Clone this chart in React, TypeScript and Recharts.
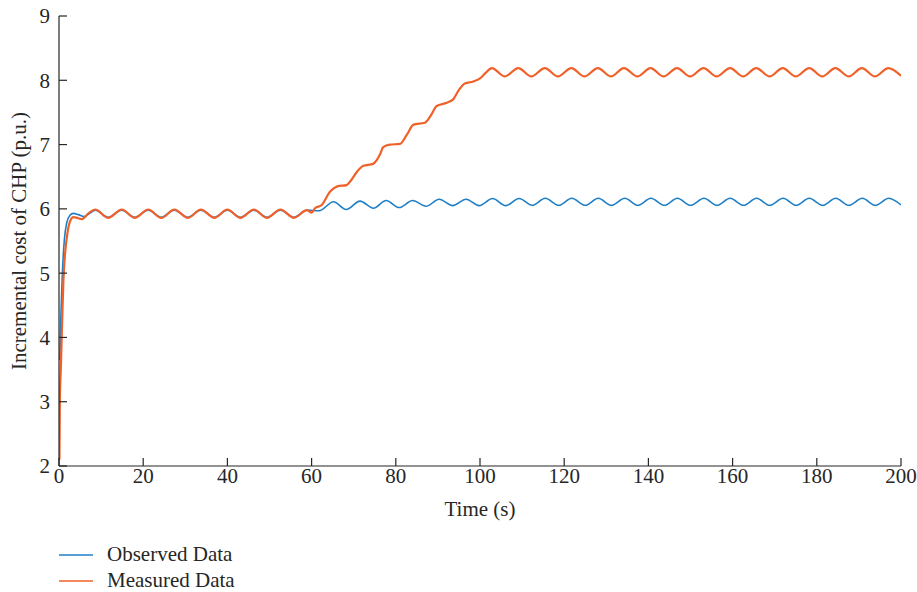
import React from 'react';
import { LineChart, Line, XAxis, YAxis } from 'recharts';

// Measured Data (orange)
const measuredTime = [
  0.1, 0.2, 0.45, 0.8, 1.05, 1.45, 2.0, 2.6, 3.4, 4.3, 5.4, 7.0,
  8.6, 11.7, 14.9, 18.0, 21.2, 24.3, 27.4, 30.6, 33.7, 36.9, 40.0, 43.1,
  46.3, 49.4, 52.6, 55.8, 58.9, 60.0, 60.8, 62.4, 64.4, 66.1, 68.3, 69.1,
  70.7, 72.3, 74.6, 76.2, 77.0, 78.6, 81.0, 82.6, 84.2, 86.9, 88.3, 89.7,
  92.1, 93.7, 95.0, 96.4, 98.4, 100.0, 101.4, 102.8, 105.9, 109.1, 112.2, 115.4,
  118.5, 121.7, 124.8, 128.0, 131.1, 134.2, 137.4, 140.5, 143.6, 146.8, 149.9, 153.1,
  156.2, 159.4, 162.5, 165.6, 168.8, 171.9, 175.0, 178.2, 181.3, 184.4, 187.6, 190.7,
  193.8, 197.0, 200.0,
];
const measuredValue = [
  2.1, 3.0, 3.55, 4.37, 4.89, 5.31, 5.62, 5.8, 5.87, 5.86, 5.84, 5.93,
  5.99, 5.86, 5.99, 5.86, 5.99, 5.86, 5.99, 5.86, 5.99, 5.86, 5.99, 5.86,
  5.99, 5.86, 5.99, 5.86, 5.98, 5.94, 6.01, 6.06, 6.27, 6.35, 6.37, 6.42,
  6.57, 6.67, 6.7, 6.84, 6.96, 7.0, 7.01, 7.15, 7.31, 7.34, 7.45, 7.6,
  7.65, 7.71, 7.85, 7.95, 7.98, 8.03, 8.12, 8.19, 8.06, 8.19, 8.06, 8.19,
  8.06, 8.19, 8.06, 8.19, 8.06, 8.19, 8.06, 8.19, 8.06, 8.19, 8.06, 8.19,
  8.06, 8.19, 8.06, 8.19, 8.06, 8.19, 8.06, 8.19, 8.06, 8.19, 8.06, 8.19,
  8.06, 8.19, 8.07,
];

// Observed Data (blue)
const observedTime = [
  0.2, 0.47, 0.8, 1.27, 1.83, 2.6, 3.4, 4.6, 6.0, 7.3,
  8.6, 11.7, 14.9, 18.0, 21.2, 24.3, 27.4, 30.6, 33.7, 36.9, 40.0, 43.1,
  46.3, 49.4, 52.6, 55.8, 58.9, 61.8, 65.2, 68.2, 71.5, 74.7, 77.7, 80.8,
  84.0, 87.2, 90.3, 93.5, 96.7, 99.8, 103.0, 106.1, 109.3, 112.4, 115.5, 118.7,
  121.8, 125.0, 128.1, 131.2, 134.4, 137.5, 140.6, 143.8, 146.9, 150.0, 153.2, 156.3,
  159.4, 162.6, 165.7, 168.8, 172.0, 175.1, 178.2, 181.4, 184.5, 187.6, 190.8, 193.9,
  197.1, 200.0,
];
const observedValue = [
  3.65, 4.38, 5.0, 5.52, 5.78, 5.9, 5.93, 5.91, 5.88, 5.93,
  5.98, 5.87, 5.98, 5.87, 5.98, 5.87, 5.98, 5.87, 5.98, 5.87, 5.98, 5.87,
  5.98, 5.87, 5.98, 5.87, 5.98, 5.97, 6.11, 5.99, 6.12, 6.01, 6.13, 6.02,
  6.13, 6.04, 6.15, 6.05, 6.15, 6.05, 6.16, 6.05, 6.16, 6.055, 6.165, 6.055,
  6.165, 6.055, 6.165, 6.055, 6.165, 6.055, 6.165, 6.055, 6.165, 6.055, 6.165, 6.055,
  6.165, 6.055, 6.165, 6.055, 6.165, 6.055, 6.165, 6.055, 6.165, 6.055, 6.165, 6.055,
  6.165, 6.06,
];

const xTicks = [0, 20, 40, 60, 80, 100, 120, 140, 160, 180, 200];
const yTicks = [2, 3, 4, 5, 6, 7, 8, 9];

const seriesNames = ['Observed Data', 'Measured Data'];
const seriesColors = ['#1f7fc6', '#f0612a'];

const observedData = observedTime.map((t, i) => ({ t, v: observedValue[i] }));
const measuredData = measuredTime.map((t, i) => ({ t, v: measuredValue[i] }));

const FONT = '"Liberation Serif", "DejaVu Serif", serif';
const TEXT = '#262626';
const FS = 21;

const YLabel = (props: any) => {
  const vb = props.viewBox || { x: 0, y: 16, width: 59, height: 450 };
  const cx = vb.x + 26;
  const cy = vb.y + vb.height / 2;
  return (
    <text
      x={cx}
      y={cy}
      transform={`rotate(-90 ${cx} ${cy})`}
      textAnchor="middle"
      fontFamily={FONT}
      fontSize={FS}
      fill={TEXT}
    >
      Incremental cost of CHP (p.u.)
    </text>
  );
};

const XLabel = (props: any) => {
  const vb = props.viewBox || { x: 59, y: 466, width: 842, height: 60 };
  const cx = vb.x + vb.width / 2;
  const cy = vb.y + 50;
  return (
    <text x={cx} y={cy} textAnchor="middle" fontFamily={FONT} fontSize={FS} fill={TEXT}>
      Time (s)
    </text>
  );
};

export default function App() {
  return (
    <div style={{ position: 'relative', width: 917, height: 592, overflow: 'hidden' }}>
      <style>{'html, body { margin: 0; overflow: hidden; }'}</style>
      <LineChart
        width={917}
        height={592}
        margin={{ top: 16, right: 16, bottom: 66, left: 0 }}
      >
        <XAxis
          type="number"
          dataKey="t"
          domain={[0, 200]}
          ticks={xTicks}
          allowDataOverflow
          height={60}
          tickSize={-8}
          tickMargin={10}
          axisLine={{ stroke: TEXT, strokeWidth: 1.2 }}
          tickLine={{ stroke: TEXT, strokeWidth: 1.2 }}
          tick={{ fill: TEXT, fontFamily: FONT, fontSize: FS }}
          label={<XLabel />}
        />
        <YAxis
          type="number"
          dataKey="v"
          domain={[2, 9]}
          ticks={yTicks}
          allowDataOverflow
          width={59}
          tickSize={-8}
          tickMargin={17}
          axisLine={{ stroke: TEXT, strokeWidth: 1.2 }}
          tickLine={{ stroke: TEXT, strokeWidth: 1.2 }}
          tick={{ fill: TEXT, fontFamily: FONT, fontSize: FS }}
          label={<YLabel />}
        />
        <Line
          data={observedData}
          dataKey="v"
          name={seriesNames[0]}
          type="monotone"
          stroke={seriesColors[0]}
          strokeWidth={1.6}
          dot={false}
          isAnimationActive={false}
        />
        <Line
          data={measuredData}
          dataKey="v"
          name={seriesNames[1]}
          type="monotone"
          stroke={seriesColors[1]}
          strokeWidth={2.2}
          dot={false}
          isAnimationActive={false}
        />
      </LineChart>
      <svg
        style={{ position: 'absolute', left: 0, top: 538 }}
        width={300}
        height={54}
      >
        {seriesNames.map((name, i) => (
          <g key={name}>
            <line
              x1={59}
              x2={93}
              y1={17 + i * 26}
              y2={17 + i * 26}
              stroke={seriesColors[i]}
              strokeWidth={1.6}
            />
            <text
              x={107}
              y={23 + i * 25.5}
              fontFamily={FONT}
              fontSize={FS}
              fill={TEXT}
            >
              {name}
            </text>
          </g>
        ))}
      </svg>
    </div>
  );
}
